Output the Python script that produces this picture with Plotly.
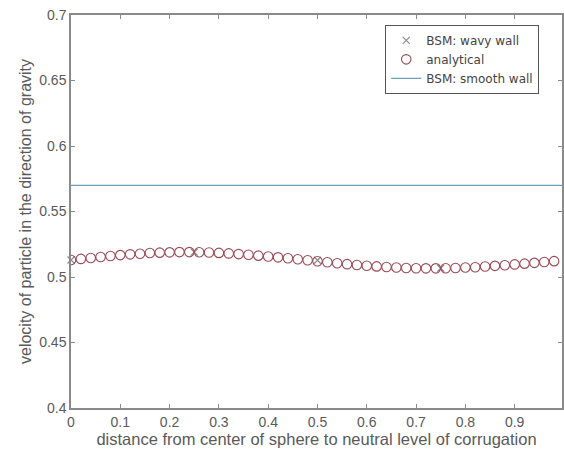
import plotly.graph_objects as go

# distance from sphere centre to the neutral level of the corrugation
x_analytical = [round(0.02 * i, 2) for i in range(50)]
v_analytical = [
    0.5130, 0.5138, 0.5145, 0.5153, 0.5160, 0.5167, 0.5173, 0.5178, 0.5183, 0.5186,
    0.5188, 0.5190, 0.5190, 0.5189, 0.5187, 0.5184, 0.5180, 0.5175, 0.5170, 0.5163,
    0.5157, 0.5150, 0.5143, 0.5135, 0.5128, 0.5120, 0.5113, 0.5105, 0.5098, 0.5092,
    0.5086, 0.5081, 0.5076, 0.5072, 0.5069, 0.5067, 0.5066, 0.5066, 0.5067, 0.5069,
    0.5072, 0.5075, 0.5080, 0.5085, 0.5090, 0.5096, 0.5102, 0.5108, 0.5115, 0.5121,
]

# boundary singularity method, wavy wall
x_wavy = [0.0, 0.25, 0.5, 0.75, 1.0]
v_wavy = [0.5130, 0.5190, 0.5128, 0.5067, 0.5127]

# boundary singularity method, smooth wall
x_smooth = [0.0, 1.0]
v_smooth = [0.570, 0.570]

x_ticks = [0, 0.1, 0.2, 0.3, 0.4, 0.5, 0.6, 0.7, 0.8, 0.9, 1.0]
x_tick_text = ["0", "0.1", "0.2", "0.3", "0.4", "0.5", "0.6", "0.7", "0.8", "0.9", "1"]
y_ticks = [0.4, 0.45, 0.5, 0.55, 0.6, 0.65, 0.7]
y_tick_text = ["0.4", "0.45", "0.5", "0.55", "0.6", "0.65", "0.7"]

FONT = "Liberation Sans, Arial, sans-serif"
AXIS = "#8a8a8a"
TEXT = "#5a5a5a"

fig = go.Figure()

fig.add_trace(go.Scatter(
    x=x_wavy, y=v_wavy, mode="markers", name="BSM: wavy wall",
    marker=dict(symbol="x-thin", size=7, line=dict(color="#8c8c8c", width=1.2)),
    cliponaxis=False,
))
fig.add_trace(go.Scatter(
    x=x_analytical, y=v_analytical, mode="markers", name="analytical",
    marker=dict(symbol="circle-open", size=9.5, color="#9b4a55", line=dict(width=1.1)),
))
fig.add_trace(go.Scatter(
    x=x_smooth, y=v_smooth, mode="lines", name="BSM: smooth wall",
    line=dict(color="#6aa3b4", width=1.3),
))

axis_common = dict(
    showgrid=False, zeroline=False, showline=True, mirror="ticks",
    linecolor=AXIS, linewidth=1.5, ticks="inside", ticklen=4,
    tickcolor=AXIS, tickfont=dict(family=FONT, size=14, color=TEXT),
)

fig.update_layout(
    width=564, height=458,
    margin=dict(l=71, r=0, t=15, b=50),
    paper_bgcolor="white", plot_bgcolor="white",
    font=dict(family=FONT, color=TEXT),
    showlegend=True,
    legend=dict(
        x=0.64, y=0.975, xanchor="left", yanchor="top",
        bgcolor="white", bordercolor="#555555", borderwidth=1,
        font=dict(family="DejaVu Sans, sans-serif", size=12, color="#444444"),
        tracegroupgap=0,
    ),
    xaxis=dict(
        range=[0, 0.996], tickvals=x_ticks, ticktext=x_tick_text,
        title=dict(text="distance from center of sphere to neutral level of corrugation",
                   font=dict(family=FONT, size=16.5, color=TEXT), standoff=2),
        **axis_common,
    ),
    yaxis=dict(
        range=[0.4, 0.7], tickvals=y_ticks, ticktext=y_tick_text,
        title=dict(text="velocity of particle in the direction of gravity",
                   font=dict(family=FONT, size=16, color=TEXT), standoff=4),
        **axis_common,
    ),
)

fig.write_html("out.html")
